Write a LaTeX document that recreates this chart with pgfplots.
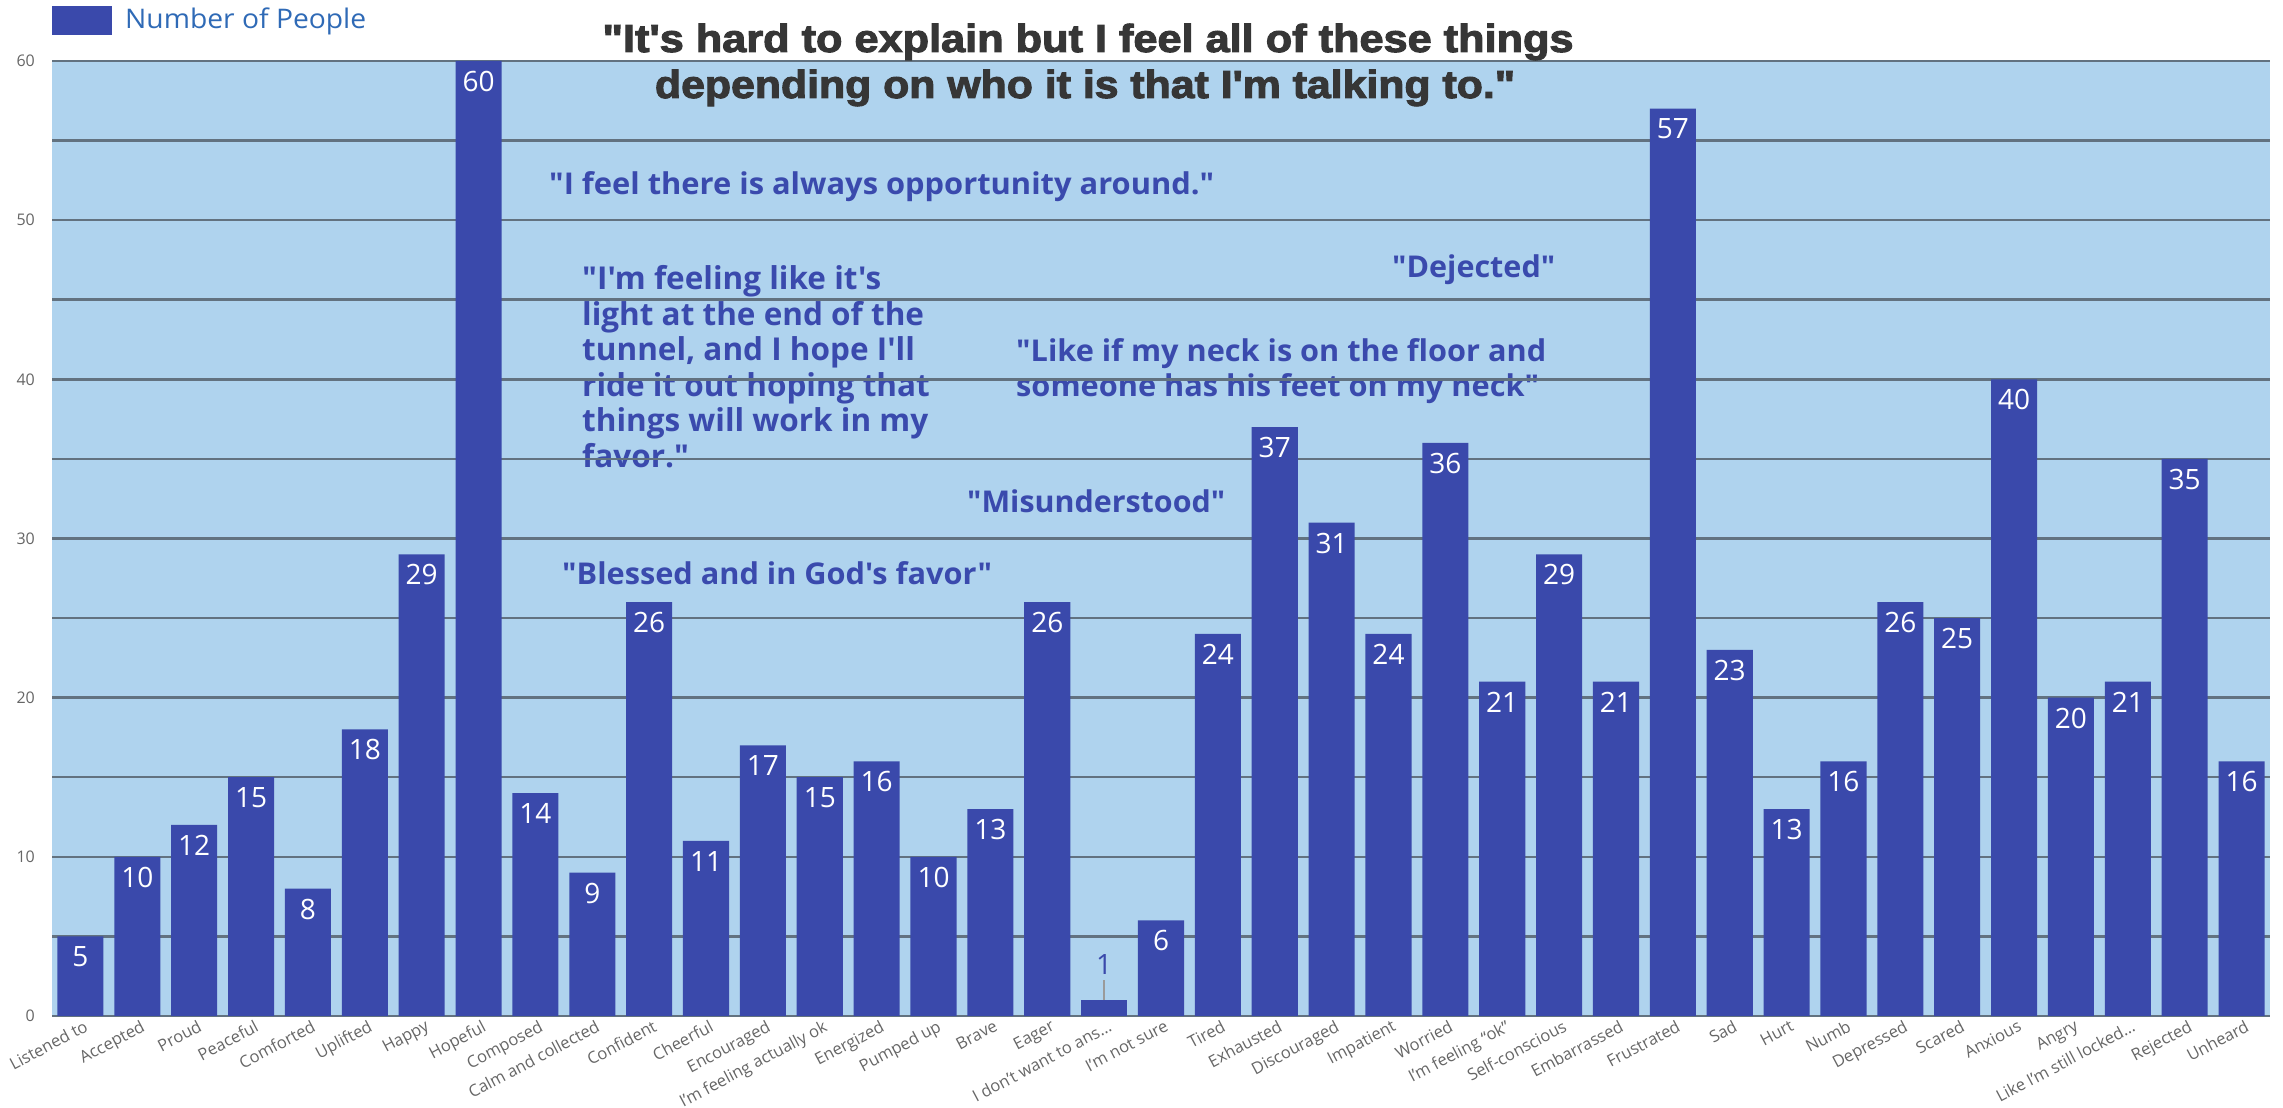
\documentclass[border=0pt]{standalone}
\usepackage{pgfplots}
\usepackage{pgfplotstable}
\usepackage{graphicx}
\usepackage{fontspec}
\pgfplotsset{compat=1.18}
\setmainfont{Open Sans}
\newfontfamily\annotfont{Open Sans}
\newfontfamily\titlefont[FakeBold=2.6]{Liberation Sans}

\definecolor{plotbg}{HTML}{AFD3EE}
\definecolor{barblue}{HTML}{3A49AB}
\definecolor{gridc}{HTML}{627280}
\definecolor{annot}{HTML}{3A4AAD}
\definecolor{legtext}{HTML}{2F6AB6}
\definecolor{ticktext}{HTML}{666666}
\definecolor{titlec}{HTML}{363636}
\definecolor{leader}{HTML}{9A9A9A}

% responses per feeling (category index, count)
\pgfplotstableread{
x y
0 5
1 10
2 12
3 15
4 8
5 18
6 29
7 60
8 14
9 9
10 26
11 11
12 17
13 15
14 16
15 10
16 13
17 26
19 6
20 24
21 37
22 31
23 24
24 36
25 21
26 29
27 21
28 57
29 23
30 13
31 16
32 26
33 25
34 40
35 20
36 21
37 35
38 16
}\mainvals

% the one bar too short to hold its own label
\pgfplotstableread{
x y
18 1
}\smallvals

\newcommand{\annot}[4]{% left x, baseline y, width, text
  \node[anchor=base west, inner sep=0pt, text=annot] at (#1bp,#2bp)
    {\resizebox{#3bp}{\height}{\annotfont\bfseries\fontsize{30bp}{36bp}\selectfont #4}};}
\newcommand{\blockline}[2]{% baseline y, text
  \node[anchor=base west, inner sep=0pt, text=annot] at (582bp,#1bp)
    {\annotfont\bfseries\fontsize{31.5bp}{36bp}\selectfont #2};}

\begin{document}
\begin{tikzpicture}
% plot area
\fill[plotbg] (52bp,92bp) rectangle (2270bp,1047bp);

% quotes written inside the plot area
\annot{549}{913}{665}{"I feel there is always opportunity around."}
\blockline{818}{"I'm feeling like it's}
\blockline{782.5}{light at the end of the}
\blockline{747}{tunnel, and I hope I'll}
\blockline{711.5}{ride it out hoping that}
\blockline{676}{things will work in my}
\blockline{640.5}{favor."}
\annot{1392}{830}{163}{"Dejected"}
\annot{1016}{746}{530}{"Like if my neck is on the floor and}
\annot{1016}{711}{523}{someone has his feet on my neck"}
\annot{967}{595}{258}{"Misunderstood"}
\annot{562}{523}{430}{"Blessed and in God's favor"}

\begin{axis}[
  at={(52bp,92bp)}, anchor=south west,
  scale only axis, width=2218bp, height=955bp,
  xmin=-0.5, xmax=38.5, ymin=0, ymax=60,
  clip=false,
  axis line style={draw=none},
  major tick length=0pt,
  /pgf/number format/assume math mode=true,
  ytick={0,5,...,60},
  yticklabels={0,{},10,{},20,{},30,{},40,{},50,{},60},
  ymajorgrids,
  major grid style={draw=gridc, line width=2.5bp},
  yticklabel style={font=\fontsize{16bp}{16bp}\selectfont, text=ticktext,
    anchor=east, inner sep=0pt, xshift=-17bp},
  xtick={0,...,38},
  xticklabels={Listened to, Accepted, Proud, Peaceful, Comforted, Uplifted,
    Happy, Hopeful, Composed, Calm and collected, Confident, Cheerful,
    Encouraged, I'm feeling actually ok, Energized, Pumped up, Brave, Eager,
    I don't want to ans…, I'm not sure, Tired, Exhausted, Discouraged,
    Impatient, Worried, I'm feeling “ok”, Self-conscious, Embarrassed,
    Frustrated, Sad, Hurt, Numb, Depressed, Scared, Anxious, Angry,
    Like I'm still locked…, Rejected, Unheard},
  xticklabel style={font=\fontsize{16.5bp}{16.5bp}\selectfont, text=ticktext,
    rotate=28, anchor=north east, inner sep=0pt, xshift=1bp, yshift=-4bp},
]
\addplot[ybar, fill=barblue, draw=none, bar width=0.81, bar shift=0pt,
  nodes near coords,
  every node near coord/.append style={anchor=north, inner sep=0pt,
    yshift=-10bp, text=white, font=\fontsize{28bp}{28bp}\selectfont}]
  table[x=x, y=y] {\mainvals};
\addplot[ybar, fill=barblue, draw=none, bar width=0.81, bar shift=0pt,
  nodes near coords,
  every node near coord/.append style={anchor=south, inner sep=0pt,
    yshift=25bp, text=barblue, font=\fontsize{28bp}{28bp}\selectfont}]
  table[x=x, y=y] {\smallvals};
\draw[leader, line width=1.5bp] (axis cs:18,1) -- ++(0pt,20bp);
\end{axis}

% legend
\fill[barblue] (52bp,1073bp) rectangle (112bp,1102bp);
\node[anchor=base west, inner sep=0pt, text=legtext] at (125bp,1079bp)
  {\resizebox{241bp}{\height}{\fontsize{27bp}{27bp}\selectfont Number of People}};

% title
\node[anchor=base, inner sep=0pt, text=titlec] at (1088bp,1056bp)
  {\resizebox{971bp}{\height}{\titlefont\bfseries\fontsize{39bp}{39bp}\selectfont "It's hard to explain but I feel all of these things}};
\node[anchor=base, inner sep=0pt, text=titlec] at (1085bp,1010bp)
  {\resizebox{860bp}{\height}{\titlefont\bfseries\fontsize{39bp}{39bp}\selectfont depending on who it is that I'm talking to."}};

\pgfresetboundingbox
\useasboundingbox (0,0) rectangle (2283bp,1108bp);
\end{tikzpicture}
\end{document}
